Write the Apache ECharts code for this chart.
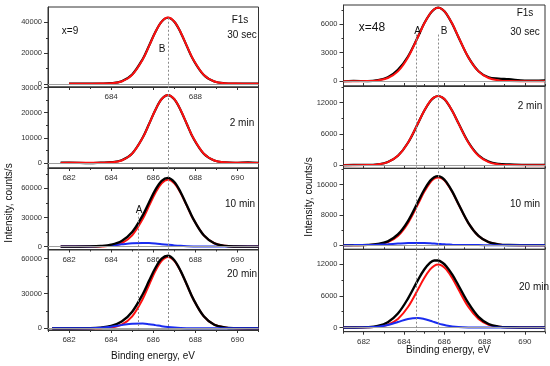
<!DOCTYPE html>
<html><head><meta charset="utf-8">
<script src="https://cdn.jsdelivr.net/npm/echarts@6/dist/echarts.min.js"></script>
<style>html,body{margin:0;padding:0;background:#fff}#c{width:550px;height:366px}</style>
</head><body><div id="c"></div>
<script>
// ---------- DATA ----------
const energyLeft  = [681.2, 681.6, 682, 683, 683.5, 684, 684.5, 685, 685.5, 685.8, 686.1, 686.4, 686.7, 687, 687.3, 687.6, 687.9, 688.4, 688.9, 689.4, 689.9, 690.5, 691];
const energyRight = [681, 681.5, 682.2, 682.7, 683.2, 683.7, 684.2, 684.7, 685.0, 685.3, 685.5, 685.7, 685.9, 686.1, 686.4, 686.7, 687.2, 687.7, 688.2, 688.7, 689.2, 690, 691];

// x=9 (left column)
const left30sBlack = [null, null, 150, 200, 250, 500, 1800, 6200, 16200, 24800, 33700, 40500, 43000, 40400, 33500, 24400, 15700, 5800, 1600, 450, 250, 200, 150];
const left30sRed   = [null, null, 100, 150, 200, 400, 1600, 5900, 15900, 24600, 33600, 40500, 43100, 40500, 33600, 24600, 15900, 5900, 1600, 400, 200, 150, 100];
const left2mBlack  = [null, 100, 150, -100, 100, 300, 1100, 3800, 10100, 15500, 21100, 25400, 27000, 25300, 21000, 15400, 9900, 3700, 1000, 200, 0, 250, 0];
const left2mRed    = [null, 0, 50, 50, 100, 250, 1000, 3700, 10000, 15450, 21050, 25400, 27050, 25400, 21050, 15450, 10000, 3700, 1000, 250, 100, 50, 0];
const left10mRed   = [null, 0, 0, 0, 120, 760, 3450, 11600, 28400, 41900, 55300, 65300, 69000, 65300, 55300, 41900, 28400, 11600, 3450, 760, 120, 0, 0];
const left10mBlue  = [null, 0, 0, 170, 510, 1230, 2300, 3350, 3800, 3630, 3170, 2530, 1850, 1230, 750, 420, 210, 60, 0, 0, 0, 0, 0];
const left10mBlack = [null, 0, 0, 170, 630, 1990, 5750, 14950, 32200, 45530, 58470, 67830, 70850, 66530, 56050, 42320, 28610, 11660, 3450, 760, 120, 0, 0];
const left20mRed   = [0, 0, 0, 0, 110, 680, 3080, 10330, 25280, 37330, 49260, 58180, 61500, 58180, 49260, 37330, 25280, 10330, 3080, 680, 110, 0, 0];
const left20mBlue  = [0, 0, 0, 110, 450, 1300, 2700, 3950, 4090, 3530, 2700, 1820, 1080, 570, 260, 110, 40, 0, 0, 0, 0, 0, 0];
const left20mBlack = [0, 0, 0, 110, 560, 1980, 5780, 14280, 29370, 40860, 51960, 60000, 62580, 58750, 49520, 37440, 25320, 10330, 3080, 680, 110, 0, 0];

// x=48 (right column)
const right30sRed   = [0, 0, 15, 85, 340, 1040, 2500, 4670, 6030, 7110, 7550, 7700, 7550, 7110, 6030, 4670, 2500, 1040, 340, 85, 15, 0, 0];
const right30sBlack = [0, 40, 10, 110, 420, 1200, 2600, 4700, 6050, 7100, 7550, 7720, 7550, 7100, 6000, 4650, 2500, 1050, 420, 280, 220, 60, 100];
const right2mRed    = [0, 0, 25, 150, 590, 1800, 4320, 8070, 10410, 12280, 13030, 13300, 13030, 12280, 10410, 8070, 4320, 1800, 590, 150, 25, 0, 0];
const right2mBlack  = [0, 60, 40, 160, 600, 1800, 4300, 8050, 10400, 12250, 13000, 13280, 13000, 12250, 10400, 8100, 4400, 1900, 700, 260, 150, 60, 50];
const right10mRed   = [0, 0, 36, 200, 790, 2420, 5820, 10870, 14020, 16520, 17540, 17900, 17540, 16520, 14020, 10870, 5820, 2420, 790, 200, 36, 0, 0];
const right10mBlue  = [0, 5, 34, 98, 225, 400, 554, 597, 554, 470, 400, 327, 257, 195, 119, 66, 20, 5, 0, 0, 0, 0, 0];
const right10mBlack = [0, 5, 70, 300, 1015, 2820, 6370, 11470, 14570, 16990, 17940, 18230, 17800, 16720, 14140, 10940, 5840, 2425, 790, 200, 36, 0, 0];
const right20mRed   = [0, 0, 24, 131, 524, 1607, 3868, 7223, 9318, 10984, 11662, 11900, 11662, 10984, 9318, 7223, 3868, 1607, 524, 131, 24, 0, 0];
const right20mBlue  = [0, 2, 33, 148, 465, 1030, 1610, 1790, 1610, 1280, 1030, 780, 560, 380, 190, 85, 17, 0, 0, 0, 0, 0, 0];
const right20mBlack = [0, 2, 57, 279, 989, 2637, 5478, 9013, 10928, 12264, 12692, 12680, 12300, 11600, 10000, 8000, 4600, 2000, 650, 160, 30, 0, 0];

// peak positions (eV)
const peakBLeft = 686.7, peakALeft = 685.3;
const peakARight = 684.6, peakBRight = 685.7;

// tick values
const xMajor = [682, 684, 686, 688, 690];
const xMinor = [681, 683, 685, 687, 689, 691];

// ---------- LAYOUT ----------
const RED = '#ff1010', BLUE = '#1a2cf0', BLACK = '#000000';
const FONT = 'Liberation Sans, Arial, sans-serif';
const colL = {left: 48, width: 210.5};
const colR = {left: 343.5, width: 201.5};

const panels = [
  {col:colL, en:energyLeft, top:7, h:80, yMin:-2000, yMax:50000, major:[0,20000,40000], minor:[10000,30000], xLabels:[684,688], tickIn:false,
   lines:[[left30sBlack,BLACK,2.2],[left30sRed,RED,2]], vlines:[[peakBLeft,43000]]},
  {col:colL, en:energyLeft, top:87, h:81, yMin:-2000, yMax:30200, major:[0,10000,20000,30000], minor:[5000,15000,25000], xLabels:xMajor, tickIn:false,
   lines:[[left2mBlack,BLACK,2.2],[left2mRed,RED,2]], vlines:[[peakBLeft,null]]},
  {col:colL, en:energyLeft, top:168, h:81.5, yMin:-3000, yMax:81000, major:[0,30000,60000], minor:[15000,45000,75000], xLabels:xMajor, tickIn:false,
   lines:[[left10mRed,RED,2],[left10mBlue,BLUE,2],[left10mBlack,BLACK,2.4]], vlines:[[peakBLeft,null],[peakALeft,35000]]},
  {col:colL, en:energyLeft, top:250, h:80, yMin:-1500, yMax:67500, major:[0,30000,60000], minor:[15000,45000], xLabels:xMajor, tickIn:false,
   lines:[[left20mRed,RED,2],[left20mBlack,BLACK,2.4],[left20mBlue,BLUE,2]], vlines:[[peakBLeft,null],[peakALeft,null]]},
  {col:colR, en:energyRight, top:5, h:81, yMin:-500, yMax:8000, major:[0,3000,6000], minor:[1500,4500,7500], xLabels:[], tickIn:true,
   lines:[[right30sBlack,BLACK,2.2],[right30sRed,RED,2]], vlines:[[peakARight,4900],[peakBRight,4900]]},
  {col:colR, en:energyRight, top:86, h:82.3, yMin:-600, yMax:15200, major:[0,6000,12000], minor:[3000,9000,15000], xLabels:[], tickIn:true,
   lines:[[right2mBlack,BLACK,2.2],[right2mRed,RED,2]], vlines:[[peakARight,null],[peakBRight,null]]},
  {col:colR, en:energyRight, top:168.3, h:81, yMin:-1100, yMax:20300, major:[0,8000,16000], minor:[4000,12000,20000], xLabels:[], tickIn:true,
   lines:[[right10mRed,RED,2],[right10mBlack,BLACK,2.4],[right10mBlue,BLUE,2]], vlines:[[peakARight,null],[peakBRight,null]]},
  {col:colR, en:energyRight, top:249.3, h:82.4, yMin:-800, yMax:14800, major:[0,6000,12000], minor:[3000,9000], xLabels:xMajor, tickIn:false,
   lines:[[right20mRed,RED,2],[right20mBlack,BLACK,2.4],[right20mBlue,BLUE,2]], vlines:[[peakARight,null],[peakBRight,null]]}
];

const plain = v => String(Math.round(v));
const grid = [], xAxis = [], yAxis = [], series = [];
panels.forEach((p, i) => {
  grid.push({left:p.col.left, width:p.col.width, top:p.top, height:p.h, show:true, borderColor:'#333', borderWidth:1, backgroundColor:'transparent'});
  xAxis.push({type:'value', gridIndex:i, min:681, max:691, position:'bottom',
    axisLine:{show:true, onZero:false, lineStyle:{color:'#333', width:1}},
    axisTick:{show:true, customValues:xMajor, length:3, inside:p.tickIn, lineStyle:{color:'#333'}},
    axisLabel:{show:p.xLabels.length>0, customValues:p.xLabels.length?p.xLabels:xMajor, formatter:plain, fontSize:8, color:'#333', margin:6, fontFamily:FONT},
    splitLine:{show:false}});
  xAxis.push({type:'value', gridIndex:i, min:681, max:691, position:'bottom',
    axisLine:{show:false, onZero:false},
    axisTick:{show:true, customValues:xMinor, length:2, inside:p.tickIn, lineStyle:{color:'#333'}},
    axisLabel:{show:false}, splitLine:{show:false}});
  yAxis.push({type:'value', gridIndex:i, min:p.yMin, max:p.yMax, position:'left',
    axisLine:{show:true, onZero:false, lineStyle:{color:'#333', width:1}},
    axisTick:{show:true, customValues:p.major, length:4, lineStyle:{color:'#333'}},
    axisLabel:{show:true, customValues:p.major, formatter:plain, fontSize:7.5, color:'#333', margin:6, fontFamily:FONT},
    splitLine:{show:false}});
  yAxis.push({type:'value', gridIndex:i, min:p.yMin, max:p.yMax, position:'left',
    axisLine:{show:false, onZero:false},
    axisTick:{show:true, customValues:p.minor, length:2, lineStyle:{color:'#333'}},
    axisLabel:{show:false}, splitLine:{show:false}});
  const mlData = [{yAxis:0, lineStyle:{color:'#a0a0a0', type:'solid', width:1}}];
  p.vlines.forEach(([e, topV]) => {
    if (topV === null) mlData.push({xAxis:e});
    else mlData.push([{coord:[e, topV]}, {coord:[e, p.yMin]}]);
  });
  series.push({type:'line', xAxisIndex:2*i, yAxisIndex:2*i, data:[], z:1, silent:true,
    markLine:{symbol:'none', silent:true, animation:false, label:{show:false},
      lineStyle:{color:'#8a8a8a', type:[2,2], width:1}, data:mlData}});
  p.lines.forEach(([arr, col, w], k) => {
    series.push({type:'line', xAxisIndex:2*i, yAxisIndex:2*i, z:2+k,
      data:p.en.map((x, j) => [x, arr[j]]), smooth:0.35, showSymbol:false, connectNulls:false,
      lineStyle:{color:col, width:w}, silent:true});
  });
});

function txt(s, x, y, size, rot) {
  return {type:'text', x:x, y:y, rotation:rot||0, silent:true, z:100,
    style:{text:s, fontSize:size, fontFamily:FONT, fill:'#111', align:'center', verticalAlign:'middle'}};
}
const graphic = [
  txt('x=9', 70, 31, 10), txt('F1s', 240, 20, 10), txt('30 sec', 242, 35, 10), txt('B', 162, 49, 10),
  txt('2 min', 242, 123, 10), txt('10 min', 240, 204, 10), txt('A', 139, 210, 10), txt('20 min', 242, 274, 10),
  txt('x=48', 372, 27.5, 12), txt('A', 417.5, 31, 10), txt('B', 444, 31, 10), txt('F1s', 525, 13, 10),
  txt('30 sec', 525, 32, 10), txt('2 min', 530, 106, 10), txt('10 min', 525, 204, 10), txt('20 min', 534, 287, 10),
  txt('Intensity, counts/s', 9, 203, 10, Math.PI/2), txt('Intensity, counts/s', 309, 197, 10, Math.PI/2),
  txt('Binding energy, eV', 153, 356, 10), txt('Binding energy, eV', 448, 350, 10)
];

const chart = echarts.init(document.getElementById('c'), null, {renderer:'canvas'});
chart.setOption({animation:false, backgroundColor:'#fff', grid, xAxis, yAxis, series, graphic});
</script>
</body></html>
